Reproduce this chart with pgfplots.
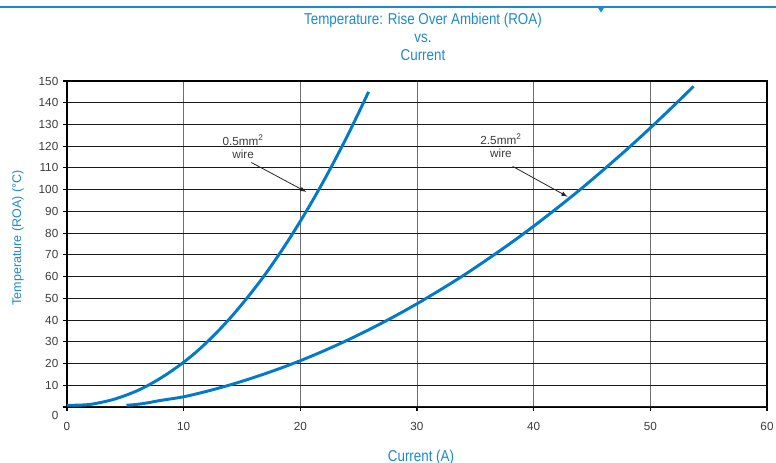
\documentclass[border=0pt]{standalone}
\usepackage{fontspec}
\setmainfont{Liberation Sans}
\newfontfamily\narrowfont[FakeStretch=0.85]{Liberation Sans}
\usepackage{pgfplots}
\pgfplotsset{compat=1.18}
\definecolor{curveblue}{RGB}{0,122,201}
\definecolor{titleblue}{RGB}{30,136,204}
\definecolor{ticktext}{RGB}{60,60,60}
\definecolor{vgrid}{RGB}{110,110,110}
\begin{document}
\begin{tikzpicture}[x=0.75pt,y=0.75pt]
\useasboundingbox (-67,-56) rectangle (709,407);
% decorative top rule
\draw[titleblue, line width=2.2pt] (-67,400) -- (709,400);
\fill[titleblue] (530.5,400) -- (537.5,400) -- (534,394.5) -- cycle;
\begin{axis}[
  at={(0pt,0pt)}, anchor=south west,
  scale only axis, width=525pt, height=244.5pt,
  xmin=0, xmax=60, ymin=0, ymax=150,
  xtick={0,10,...,60}, ytick={10,20,...,150},
  extra y ticks={0},
  extra y tick style={yticklabel style={yshift=-6pt}},
  xmajorgrids, ymajorgrids,
  x grid style={vgrid, line width=0.75pt},
  y grid style={black!90, line width=0.75pt},
  axis line style={black, line width=1.1pt},
  tick align=outside, tick pos=left, major tick length=3pt,
  tick style={black, line width=0.8pt},
  /pgf/number format/assume math mode=true,
  ticklabel style={font=\fontsize{8.8}{10}\selectfont, text=ticktext},
  xticklabel style={yshift=-5pt},
  clip=false,
]
\addplot[curveblue, line width=2.2pt, smooth] coordinates {
(0,0.8)(1,0.85)(2,1.2)(3,2.2)(4,3.5)(5,5.3)(6,7.45)(7,10.1)(8,13.2)(9,16.7)(10,20.6)
(11,24.95)(12,29.85)(13,35.2)(14,41)(15,47.3)(16,54)(17,61.1)(18,68.8)(19,76.9)
(20,85.5)(21,94.5)(22,104)(23,114)(24,124.4)(25,135.4)(25.85,145)};
\addplot[curveblue, line width=2.2pt, smooth] coordinates {
(5.1,0.8)(6,1.2)(7,2)(8,3)(10,4.7)(12,7.25)(14,10.2)(16,13.55)(18,17.25)(20,21.3)
(22,25.8)(24,30.65)(26,35.9)(28,41.5)(30,47.5)(32,53.9)(34,60.6)(36,67.8)(38,75.3)
(40,83.2)(42,91.5)(44,100.1)(46,109.2)(48,118.6)(50,128.4)(52,138.6)(53.7,147.5)};
% annotations
\node[font=\fontsize{8.8}{10}\selectfont, text=ticktext] at (axis cs:15.1,122.8) {0.5mm\textsuperscript{2}};
\node[font=\fontsize{8.8}{10}\selectfont, text=ticktext] at (axis cs:15.1,116.4) {wire};
\draw[-latex, black!85, line width=0.6pt] (axis cs:15.8,112.5) -- (axis cs:20.5,99);
\node[font=\fontsize{8.8}{10}\selectfont, text=ticktext] at (axis cs:37.2,123.3) {2.5mm\textsuperscript{2}};
\node[font=\fontsize{8.8}{10}\selectfont, text=ticktext] at (axis cs:37.2,116.7) {wire};
\draw[-latex, black!85, line width=0.6pt] (axis cs:38.2,110.7) -- (axis cs:42.9,96.8);
\end{axis}
% titles and labels
\node[font=\narrowfont\fontsize{11.8}{13}\selectfont, text=titleblue] at (356,387) {Temperature: Rise Over Ambient (ROA)};
\node[font=\narrowfont\fontsize{11.8}{13}\selectfont, text=titleblue] at (356,369) {vs.};
\node[font=\narrowfont\fontsize{11.8}{13}\selectfont, text=titleblue] at (356,352) {Current};
\node[font=\fontsize{9.4}{11}\selectfont, text=titleblue, rotate=90] at (-49,169) {Temperature (ROA) (\textdegree C)};
\node[font=\narrowfont\fontsize{11.8}{13}\selectfont, text=titleblue] at (354,-50) {Current (A)};
\end{tikzpicture}
\end{document}
